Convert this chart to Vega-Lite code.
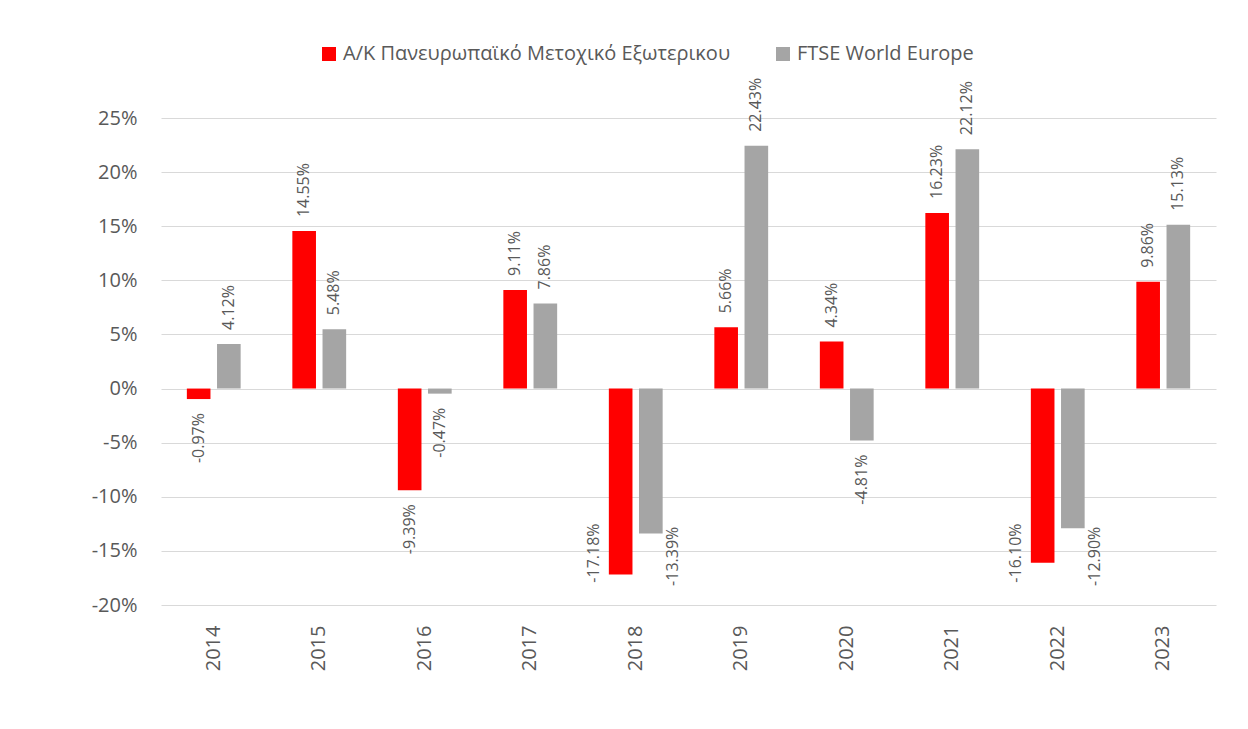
{
  "$schema": "https://vega.github.io/schema/vega-lite/v6.json",
  "width": 1055,
  "height": 487,
  "autosize": {"type": "none"},
  "padding": {"left": 161, "top": 118, "right": 32, "bottom": 124},
  "background": "white",
  "config": {
    "view": {"stroke": null},
    "font": "Open Sans",
    "text": {"font": "Open Sans"},
    "locale": {"number": {"decimal": ".", "thousands": ",", "grouping": [3], "currency": ["$", ""], "minus": "-"}}
  },
  "data": {
    "values": [
      {"year": "2014", "series": "Α/Κ Πανευρωπαϊκό Μετοχικό Εξωτερικου", "v": -0.0097},
      {"year": "2014", "series": "FTSE World Europe", "v": 0.0412},
      {"year": "2015", "series": "Α/Κ Πανευρωπαϊκό Μετοχικό Εξωτερικου", "v": 0.1455},
      {"year": "2015", "series": "FTSE World Europe", "v": 0.0548},
      {"year": "2016", "series": "Α/Κ Πανευρωπαϊκό Μετοχικό Εξωτερικου", "v": -0.0939},
      {"year": "2016", "series": "FTSE World Europe", "v": -0.0047},
      {"year": "2017", "series": "Α/Κ Πανευρωπαϊκό Μετοχικό Εξωτερικου", "v": 0.0911},
      {"year": "2017", "series": "FTSE World Europe", "v": 0.0786},
      {"year": "2018", "series": "Α/Κ Πανευρωπαϊκό Μετοχικό Εξωτερικου", "v": -0.1718},
      {"year": "2018", "series": "FTSE World Europe", "v": -0.1339},
      {"year": "2019", "series": "Α/Κ Πανευρωπαϊκό Μετοχικό Εξωτερικου", "v": 0.0566},
      {"year": "2019", "series": "FTSE World Europe", "v": 0.2243},
      {"year": "2020", "series": "Α/Κ Πανευρωπαϊκό Μετοχικό Εξωτερικου", "v": 0.0434},
      {"year": "2020", "series": "FTSE World Europe", "v": -0.0481},
      {"year": "2021", "series": "Α/Κ Πανευρωπαϊκό Μετοχικό Εξωτερικου", "v": 0.1623},
      {"year": "2021", "series": "FTSE World Europe", "v": 0.2212},
      {"year": "2022", "series": "Α/Κ Πανευρωπαϊκό Μετοχικό Εξωτερικου", "v": -0.161},
      {"year": "2022", "series": "FTSE World Europe", "v": -0.129},
      {"year": "2023", "series": "Α/Κ Πανευρωπαϊκό Μετοχικό Εξωτερικου", "v": 0.0986},
      {"year": "2023", "series": "FTSE World Europe", "v": 0.1513}
    ]
  },
  "encoding": {
    "x": {
      "field": "year", "type": "nominal",
      "scale": {"paddingInner": 0.49, "paddingOuter": 0.245},
      "axis": {
        "title": null, "labelAngle": -90, "labelFontSize": 20, "labelColor": "#595959",
        "labelFont": "Open Sans", "labelPadding": 20, "domain": false, "ticks": false, "grid": false
      }
    },
    "xOffset": {
      "field": "series", "type": "nominal",
      "scale": {"paddingInner": 0.217, "paddingOuter": 0, "domain": ["Α/Κ Πανευρωπαϊκό Μετοχικό Εξωτερικου", "FTSE World Europe"]}
    },
    "y": {
      "field": "v", "type": "quantitative",
      "scale": {"domain": [-0.2, 0.25], "nice": false},
      "axis": {
        "title": null, "format": ".0%", "values": [-0.2, -0.15, -0.1, -0.05, 0, 0.05, 0.1, 0.15, 0.2, 0.25],
        "labelFontSize": 20, "labelColor": "#595959", "labelFont": "Open Sans", "labelPadding": 24,
        "domain": false, "ticks": false, "gridColor": "#d9d9d9", "gridWidth": 1.2
      }
    }
  },
  "layer": [
    {
      "mark": {"type": "bar"},
      "encoding": {
        "color": {
          "field": "series", "type": "nominal",
          "scale": {"domain": ["Α/Κ Πανευρωπαϊκό Μετοχικό Εξωτερικου", "FTSE World Europe"], "range": ["#ff0000", "#a5a5a5"]},
          "legend": {
            "title": null, "orient": "none", "direction": "horizontal", "legendX": 158, "legendY": -74,
            "symbolType": "square", "symbolSize": 196, "symbolStrokeWidth": 0,
            "labelFontSize": 20, "labelColor": "#595959", "labelFont": "Open Sans", "labelLimit": 0,
            "labelOffset": 4, "columnPadding": 42
          }
        }
      }
    },
    {
      "transform": [{"filter": "datum.v >= 0"}],
      "mark": {"type": "text", "angle": -90, "align": "left", "baseline": "middle", "dx": 14, "fontSize": 16, "color": "#595959", "font": "Open Sans"},
      "encoding": {"text": {"field": "v", "format": ".2%"}}
    },
    {
      "transform": [{"filter": "datum.v < 0 && datum.v > -0.12"}],
      "mark": {"type": "text", "angle": -90, "align": "right", "baseline": "middle", "dx": -14, "fontSize": 16, "color": "#595959", "font": "Open Sans"},
      "encoding": {"text": {"field": "v", "format": ".2%"}}
    },
    {
      "transform": [{"filter": "datum.v <= -0.12 && datum.series != 'FTSE World Europe'"}],
      "mark": {"type": "text", "angle": -90, "align": "center", "baseline": "middle", "dy": -27, "fontSize": 16, "color": "#595959", "font": "Open Sans"},
      "encoding": {"y": {"datum": -0.152}, "text": {"field": "v", "format": ".2%"}}
    },
    {
      "transform": [{"filter": "datum.v <= -0.12 && datum.series == 'FTSE World Europe'"}],
      "mark": {"type": "text", "angle": -90, "align": "center", "baseline": "middle", "dy": 22, "fontSize": 16, "color": "#595959", "font": "Open Sans"},
      "encoding": {"y": {"datum": -0.155}, "text": {"field": "v", "format": ".2%"}}
    }
  ]
}
